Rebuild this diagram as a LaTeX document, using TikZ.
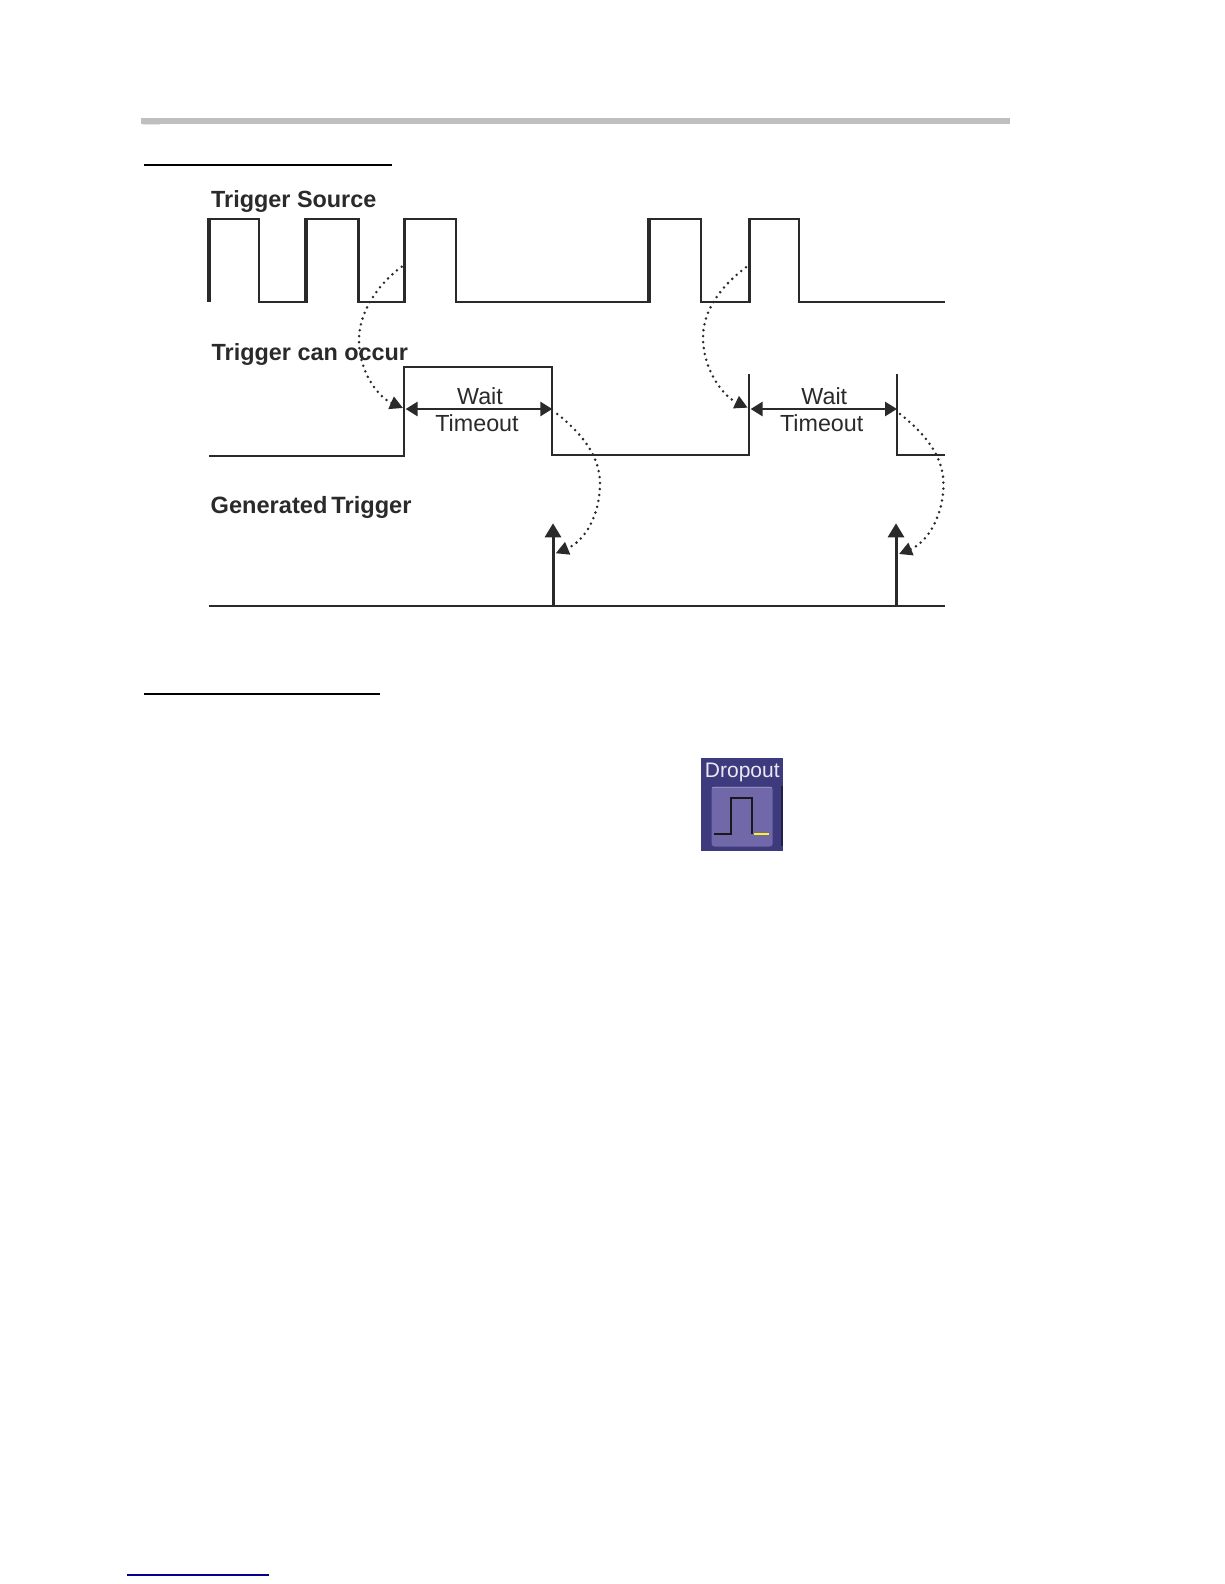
\documentclass[tikz,border=0pt]{standalone}
\usepackage{fontspec}
\setmainfont{Liberation Sans}
\usetikzlibrary{arrows.meta}
\definecolor{ink}{HTML}{2A2A2A}
\definecolor{iconbg}{HTML}{3E3A7E}
\definecolor{iconbtn}{HTML}{7068A8}
\tikzset{
  wave/.style={draw=ink,line width=2.2pt,line cap=butt,line join=miter},
  thickedge/.style={draw=ink,line width=3.6pt,line cap=butt},
  title/.style={inner sep=0pt,anchor=base west,text=ink,font=\fontsize{23.4}{26}\selectfont\bfseries},
  waittext/.style={inner sep=0pt,anchor=center,text=ink,font=\fontsize{23.3}{26}\selectfont},
  span/.style={draw=ink,line width=2.8pt,{Triangle[length=12pt,width=14pt]}-{Triangle[length=12pt,width=14pt]}},
  pulse/.style={draw=ink,line width=3pt,-{Triangle[length=14pt,width=16pt]}},
  follow/.style={draw=ink,line width=2.8pt,line cap=round,dash pattern=on 0pt off 6pt,-{Triangle[length=13pt,width=13pt]}},
  ruleline/.style={draw=black,line width=1.9pt}
}
\begin{document}
\begin{tikzpicture}[x=1pt,y=-1pt]
\useasboundingbox (0,0) rectangle (1224,1584);
\fill[white] (0,0) rectangle (1224,1584);

% page furniture
\fill[black!25] (141,118) rectangle (1010,124);
\fill[black!10] (143,124) rectangle (160,125.5);
\coordinate (ua) at (144,165); \coordinate (ub) at (392,165);
\draw[ruleline] (ua) -- (ub);
\coordinate (va) at (144,694); \coordinate (vb) at (380,694);
\draw[ruleline] (va) -- (vb);
\coordinate (fa) at (127,1575.3); \coordinate (fb) at (269,1575.3);
\draw[draw=blue!55!black,line width=2pt] (fa) -- (fb);

% labels
\node[title] (lsrc) at (211,207) {Trigger Source};
\node[title] (lcan) at (211.5,360) {Trigger can occur};
\node[title,font=\fontsize{23.6}{26}\selectfont\bfseries] (lgen) at (210.5,513.3) {Generated\hspace{-2.5pt} Trigger};

% trigger source
\draw[wave] (208.7,218.7) -- (259,218.7) -- (259,302) -- (306,302) -- (306,218.7) -- (358.5,218.7) -- (358.5,302)
  -- (404.3,302) -- (404.3,218.7) -- (456,218.7) -- (456,302) -- (649,302) -- (649,218.7) -- (701,218.7) -- (701,302)
  -- (749.3,302) -- (749.3,218.7) -- (799.3,218.7) -- (799.3,302) -- (945,302);
\draw[thickedge] (208.7,217.6) -- (208.7,302);
\draw[thickedge] (306,217.6) -- (306,303.1);
\draw[thickedge] (404.3,217.6) -- (404.3,303.1);
\draw[thickedge] (649,217.6) -- (649,303.1);
\draw[thickedge] (749.3,217.6) -- (749.3,303.1);

% trigger can occur
\draw[wave] (209,455.7) -- (404.3,455.7) -- (404.3,367.3) -- (552.3,367.3) -- (552.3,455) -- (749.3,455) -- (749.3,374.3);
\draw[wave] (897,374.3) -- (897,455) -- (945,455);

\coordinate (w1a) at (405.6,409); \coordinate (w1b) at (552.3,409);
\coordinate (w2a) at (750.6,409); \coordinate (w2b) at (897,409);
\draw[span] (w1a) -- (w1b);
\draw[span] (w2a) -- (w2b);
\node[waittext] (wait1) at (480,396) {Wait};
\node[waittext] (time1) at (477,423.5) {Timeout};
\node[waittext] (wait2) at (824.3,396) {Wait};
\node[waittext] (time2) at (821.7,423.5) {Timeout};

% generated trigger
\coordinate (axa) at (209,605.7); \coordinate (axb) at (945,605.7);
\draw[wave] (axa) -- (axb);
\coordinate (p1a) at (553,605.7); \coordinate (p1b) at (553,523.3);
\coordinate (p2a) at (896,605.7); \coordinate (p2b) at (896,523.3);
\draw[pulse] (p1a) -- (p1b);
\draw[pulse] (p2a) -- (p2b);

% dotted links
\coordinate (c1a) at (401.7,266.7); \coordinate (c1m) at (359,340); \coordinate (c1z) at (403,408);
\draw[follow] (c1a) .. controls (378,284) and (359,312) .. (c1m) .. controls (359,372) and (378,397) .. (c1z);
\coordinate (c2a) at (557.3,414); \coordinate (c2m) at (600,483.3); \coordinate (c2z) at (555.7,553.3);
\draw[follow] (c2a) .. controls (580,432) and (600,455) .. (c2m) .. controls (600,515) and (585,541) .. (c2z);
\coordinate (c3a) at (746,267.3); \coordinate (c3m) at (703,337); \coordinate (c3z) at (747.7,407.7);
\draw[follow] (c3a) .. controls (722,285) and (703,310) .. (c3m) .. controls (703,370) and (723,396) .. (c3z);
\coordinate (c4a) at (900,414); \coordinate (c4m) at (943.5,484); \coordinate (c4z) at (899,554);
\draw[follow] (c4a) .. controls (923,432) and (943.5,455) .. (c4m) .. controls (943.5,515) and (928,542) .. (c4z);

% Dropout icon
\fill[iconbg] (701,758.3) rectangle (783,851);
\fill[black!45!iconbg] (780.5,786) rectangle (783,846);
\fill[iconbtn,rounded corners=3pt] (711.5,786.5) rectangle (772.7,846.5);
\draw[draw=white!25!iconbtn,line width=1pt] (712,787) -- (772,787);
\draw[black!90,line width=2pt,line join=miter] (714.3,834.3) -- (731,834.3) -- (731,798.3) -- (752.3,798.3) -- (752.3,834.3);
\draw[yellow!90!white,line width=2pt] (754,834.3) -- (769,834.3);
\node[inner sep=0pt,text=white!85!iconbtn,font=\fontsize{21}{24}\selectfont] (drop) at (742.3,772.5) {Dropout};
\end{tikzpicture}
\end{document}
